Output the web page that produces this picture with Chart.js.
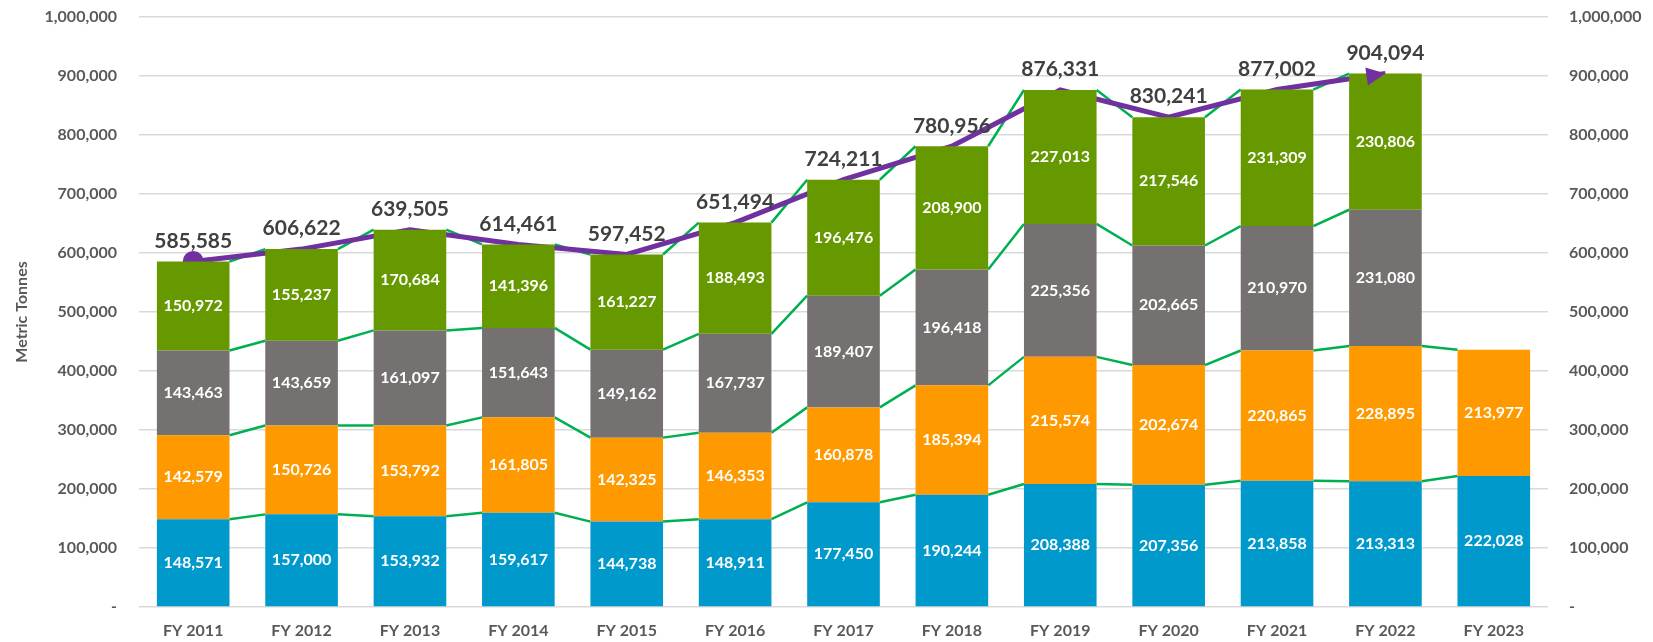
<!DOCTYPE html>
<html>
<head>
<meta charset="utf-8">
<script src="https://cdn.jsdelivr.net/npm/chart.js@4"></script>
<style>
  html, body { margin: 0; padding: 0; background: #fff; }
  #wrap { width: 1653px; height: 642px; position: relative; }
</style>
</head>
<body>
<div id="wrap"><canvas id="tonnesChart"></canvas></div>
<script>
const years = ['FY 2011', 'FY 2012', 'FY 2013', 'FY 2014', 'FY 2015', 'FY 2016', 'FY 2017',
  'FY 2018', 'FY 2019', 'FY 2020', 'FY 2021', 'FY 2022', 'FY 2023'];

const blueVals = [148571, 157000, 153932, 159617, 144738, 148911, 177450, 190244, 208388, 207356, 213858, 213313, 222028];
const orangeVals = [142579, 150726, 153792, 161805, 142325, 146353, 160878, 185394, 215574, 202674, 220865, 228895, 213977];
const grayVals = [143463, 143659, 161097, 151643, 149162, 167737, 189407, 196418, 225356, 202665, 210970, 231080, null];
const greenVals = [150972, 155237, 170684, 141396, 161227, 188493, 196476, 208900, 227013, 217546, 231309, 230806, null];
const totals = [585585, 606622, 639505, 614461, 597452, 651494, 724211, 780956, 876331, 830241, 877002, 904094, null];

const FONT = 'Lato, "Open Sans", sans-serif';
const fmt = v => Number(v).toLocaleString('en-US');

// green "series lines" joining the segment tops between bars
const seriesLines = {
  id: 'seriesLines',
  beforeDatasetsDraw(chart) {
    const ctx = chart.ctx;
    ctx.save();
    ctx.strokeStyle = '#00B050';
    ctx.lineWidth = 2.5;
    for (let d = 0; d < 4; d++) {
      const meta = chart.getDatasetMeta(d);
      const vals = chart.data.datasets[d].data;
      for (let i = 0; i < vals.length - 1; i++) {
        if (vals[i] == null || vals[i + 1] == null) continue;
        const a = meta.data[i], b = meta.data[i + 1];
        ctx.beginPath();
        ctx.moveTo(a.x + a.width / 2, a.y);
        ctx.lineTo(b.x - b.width / 2, b.y);
        ctx.stroke();
      }
    }
    ctx.restore();
  }
};

// value labels + arrow head on the total line
const labelsPlugin = {
  id: 'labelsPlugin',
  afterDatasetsDraw(chart) {
    const ctx = chart.ctx;
    ctx.save();
    ctx.textAlign = 'center';
    ctx.textBaseline = 'middle';
    ctx.fillStyle = '#ffffff';
    ctx.font = 'bold 16px ' + FONT;
    for (let d = 0; d < 4; d++) {
      const meta = chart.getDatasetMeta(d);
      chart.data.datasets[d].data.forEach((v, i) => {
        if (v == null) return;
        const el = meta.data[i];
        ctx.fillText(fmt(v), el.x, (el.y + el.base) / 2);
      });
    }

    // arrow at the end of the total line
    const lineMeta = chart.getDatasetMeta(4);
    const pts = lineMeta.data.filter((p, i) => totals[i] != null);
    const p1 = pts[pts.length - 2], p2 = pts[pts.length - 1];
    const ang = Math.atan2(p2.y - p1.y, p2.x - p1.x);
    ctx.fillStyle = '#7030A0';
    ctx.translate(p2.x, p2.y);
    ctx.rotate(ang);
    ctx.beginPath();
    ctx.moveTo(0, 0);
    ctx.lineTo(-19, -9);
    ctx.lineTo(-19, 9);
    ctx.closePath();
    ctx.fill();
    ctx.setTransform(1, 0, 0, 1, 0, 0);

    // total labels above the bars
    ctx.fillStyle = '#404040';
    ctx.font = 'bold 21px ' + FONT;
    ctx.textBaseline = 'bottom';
    const topMeta = chart.getDatasetMeta(3);
    totals.forEach((v, i) => {
      if (v == null) return;
      const el = topMeta.data[i];
      ctx.fillText(fmt(v), el.x, el.y - 10);
    });
    ctx.restore();
  }
};

const tickFmt = v => (v === 0 ? '-' : fmt(v));

new Chart(document.getElementById('tonnesChart'), {
  type: 'bar',
  data: {
    labels: years,
    datasets: [
      { label: 'Blue', data: blueVals, backgroundColor: '#0099CC', stack: 's' },
      { label: 'Orange', data: orangeVals, backgroundColor: '#FF9900', stack: 's' },
      { label: 'Gray', data: grayVals, backgroundColor: '#767171', stack: 's' },
      { label: 'Green', data: greenVals, backgroundColor: '#669900', stack: 's' },
      {
        type: 'line',
        label: 'Total',
        data: totals,
        yAxisID: 'y2',
        borderColor: '#7030A0',
        backgroundColor: '#7030A0',
        borderWidth: 5,
        tension: 0,
        pointRadius: totals.map((v, i) => (i === 0 ? 8 : 0)),
        pointHoverRadius: 0,
        spanGaps: false
      }
    ]
  },
  options: {
    responsive: true,
    maintainAspectRatio: false,
    animation: false,
    layout: { padding: { top: 17, left: 0, right: 0, bottom: 0 } },
    datasets: {
      bar: { categoryPercentage: 1, barPercentage: 0.67 }
    },
    plugins: {
      legend: { display: false },
      tooltip: { enabled: false }
    },
    scales: {
      x: {
        stacked: true,
        grid: { display: false, drawTicks: false },
        border: { display: false },
        ticks: {
          color: '#595959',
          font: { family: FONT, size: 16, weight: 'bold' },
          padding: 14
        },
        afterFit(scale) { scale.height = 35; }
      },
      y: {
        stacked: true,
        position: 'left',
        min: 0,
        max: 1000000,
        grid: { color: '#D9D9D9', lineWidth: 1.5, drawTicks: false },
        border: { display: false },
        ticks: {
          stepSize: 100000,
          color: '#595959',
          font: { family: FONT, size: 16, weight: 'bold' },
          padding: 22,
          callback: tickFmt
        },
        title: {
          display: true,
          text: 'Metric Tonnes',
          color: '#595959',
          font: { family: FONT, size: 16, weight: 'bold' },
          padding: { top: 12, bottom: 0 }
        },
        afterFit(scale) {
          scale.width = 139;
          scale.paddingTop = 0;
          scale.paddingBottom = 0;
        }
      },
      y2: {
        position: 'right',
        stacked: false,
        min: 0,
        max: 1000000,
        grid: { display: false, drawTicks: false },
        border: { display: false },
        ticks: {
          stepSize: 100000,
          color: '#595959',
          font: { family: FONT, size: 16, weight: 'bold' },
          padding: 21,
          callback: tickFmt
        },
        afterFit(scale) {
          scale.width = 105;
          scale.paddingTop = 0;
          scale.paddingBottom = 0;
        }
      }
    }
  },
  plugins: [seriesLines, labelsPlugin]
});
</script>
</body>
</html>
